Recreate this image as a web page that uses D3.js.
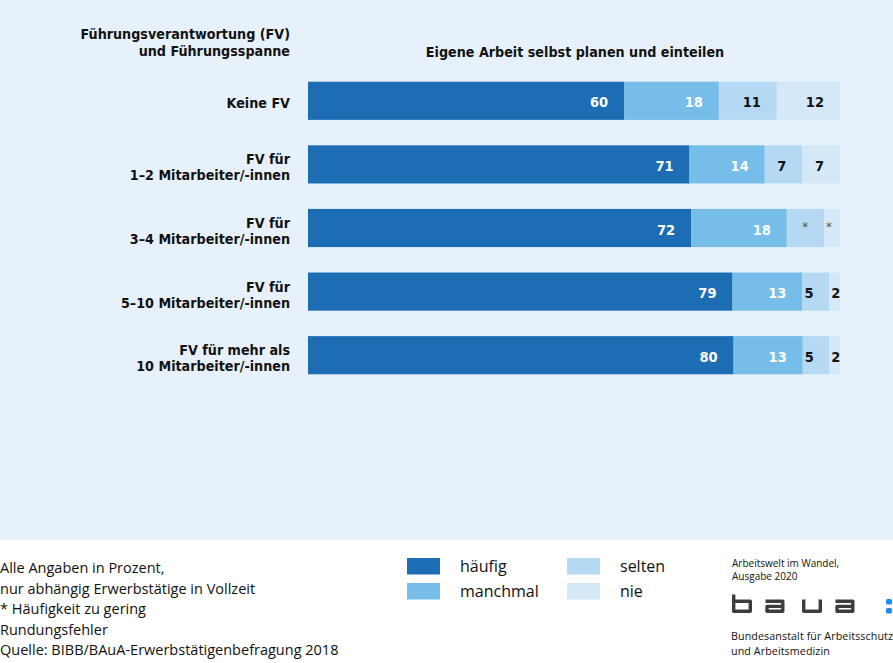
<!DOCTYPE html>
<html><head><meta charset="utf-8">
<script src="https://cdn.jsdelivr.net/npm/d3@7/dist/d3.min.js"></script>
<style>
html,body{margin:0;padding:0;background:#fff;}
svg{display:block;}
.cond{font-family:"DejaVu Sans Condensed","Liberation Sans Narrow","Roboto Condensed","Open Sans",sans-serif;font-stretch:condensed;}
.reg{font-family:"Open Sans","Lato",sans-serif;}
</style></head>
<body>
<script>
// ---- data ----
const categories = [
  ["Keine FV"],
  ["FV für", "1–2 Mitarbeiter/-innen"],
  ["FV für", "3–4 Mitarbeiter/-innen"],
  ["FV für", "5–10 Mitarbeiter/-innen"],
  ["FV für mehr als", "10 Mitarbeiter/-innen"]
];
const seriesNames = ["häufig", "manchmal", "selten", "nie"];
const haeufig  = [60, 71, 72, 79, 80];
const manchmal = [18, 14, 18, 13, 13];
const selten   = [11, 7, 7, 5, 5];
const nie      = [12, 7, 3, 2, 2];
// labels shown ("*" = Häufigkeit zu gering)
const seltenLabels = ["11", "7", "*", "5", "5"];
const nieLabels    = ["12", "7", "*", "2", "2"];
const colors = ["#1d6db5", "#76bde9", "#b6d9f3", "#d5e8f8"];
const textColors = ["#ffffff", "#ffffff", "#111111", "#111111"];
const footnotes = [
  "Alle Angaben in Prozent,",
  "nur abhängig Erwerbstätige in Vollzeit",
  "* Häufigkeit zu gering",
  "Rundungsfehler",
  "Quelle: BIBB/BAuA-Erwerbstätigenbefragung 2018"
];

const W = 893, H = 663;
const svg = d3.select("body").append("svg").attr("width", W).attr("height", H);

svg.append("rect").attr("x",0).attr("y",0).attr("width",W).attr("height",540).attr("fill","#e7f1fb");

const FS = 14.2;
// header
const hdr = svg.append("g").attr("class","cond").attr("font-weight","bold").attr("font-size",FS).attr("fill","#111");
hdr.append("text").attr("x",290).attr("y",39).attr("text-anchor","end").text("Führungsverantwortung (FV)");
hdr.append("text").attr("x",290).attr("y",56).attr("text-anchor","end").text("und Führungsspanne");
hdr.append("text").attr("x",575).attr("y",57).attr("text-anchor","middle").text("Eigene Arbeit selbst planen und einteilen");

const y = d3.scaleBand().domain(d3.range(categories.length)).range([69, 387]).paddingInner(0.4).paddingOuter(0.2);

const rows = categories.map((c, i) => {
  const vals = [haeufig[i], manchmal[i], selten[i], nie[i]];
  const labels = [String(haeufig[i]), String(manchmal[i]), seltenLabels[i], nieLabels[i]];
  return {c, vals, labels, i};
});

const g = svg.append("g");
rows.forEach(r => {
  const total = d3.sum(r.vals);
  const x = d3.scaleLinear().domain([0, total]).range([308, 840]);
  const cum = d3.cumsum(r.vals);
  const y0 = y(r.i), bh = y.bandwidth(), cy = y0 + bh/2;
  r.vals.forEach((v, k) => {
    const a = k === 0 ? 0 : cum[k-1], b = cum[k];
    g.append("rect").attr("x", x(a)).attr("y", y0).attr("width", x(b) - x(a)).attr("height", bh)
      .attr("fill", colors[k]);
  });
  // value labels
  r.vals.forEach((v, k) => {
    const a = k === 0 ? 0 : cum[k-1], b = cum[k];
    const lab = r.labels[k];
    const isStar = lab === "*";
    const t = g.append("text").attr("class","cond").attr("font-weight", isStar ? "normal" : "bold")
      .attr("font-size", isStar ? 13 : 14.5)
      .attr("fill", isStar ? "#555" : textColors[k])
      .attr("text-anchor","end")
      .attr("y", isStar ? cy + 3 : cy + 6.5)
      .text(lab);
    const tw = t.node().getComputedTextLength();
    const xr = Math.max(x(b) - 16, x(a) + tw + 2);
    t.attr("x", xr);
  });
  // category labels
  const lab = svg.append("text").attr("class","cond").attr("font-weight","bold").attr("font-size",FS)
    .attr("fill","#111").attr("text-anchor","end");
  if (r.c.length === 1) {
    lab.append("tspan").attr("x",290).attr("y",cy + 7).text(r.c[0]);
  } else {
    lab.append("tspan").attr("x",290).attr("y",cy).text(r.c[0]);
    lab.append("tspan").attr("x",290).attr("y",cy + 16).text(r.c[1]);
  }
});

// footnotes
const fn = svg.append("g").attr("class","reg").attr("font-size",14.5).attr("fill","#111");
footnotes.forEach((t, i) => fn.append("text").attr("x",0).attr("y",573 + i*20.5).text(t));

// legend
const lg = svg.append("g");
seriesNames.forEach((n, k) => {
  const col = Math.floor(k/2), row = k % 2;
  const lx = 407 + col*160, ly = 558 + row*25;
  lg.append("rect").attr("x",lx).attr("y",ly).attr("width",33).attr("height",16.5).attr("fill",colors[k]);
  lg.append("text").attr("class","reg").attr("x",lx+53).attr("y",ly+14).attr("font-size",16).attr("fill","#111").text(n);
});

// logo block
const lb = svg.append("g").attr("class","reg").attr("fill","#111");
lb.append("text").attr("x",732).attr("y",567).attr("font-size",10).text("Arbeitswelt im Wandel,");
lb.append("text").attr("x",732).attr("y",580).attr("font-size",10).text("Ausgabe 2020");
lb.append("text").attr("x",731).attr("y",640).attr("font-size",10.7).attr("letter-spacing",0.1).text("Bundesanstalt für Arbeitsschutz");
lb.append("text").attr("x",731).attr("y",655).attr("font-size",10.7).attr("letter-spacing",0.1).text("und Arbeitsmedizin");
const logo = svg.append("g").attr("fill","none").attr("stroke","#3c3c3c").attr("stroke-width",3.4).attr("stroke-linejoin","round");
// b
logo.append("path").attr("d","M733.7,594.5 V611.3 H750.3 V601.2 H733.7");
// a
logo.append("path").attr("d","M765.5,601.2 H782.8 V611.3 H767 V606.4 H782.8");
// u
logo.append("path").attr("d","M803.7,599.5 V611.3 H820.3 V599.5");
// a
logo.append("path").attr("d","M835.5,601.2 H852.8 V611.3 H837 V606.4 H852.8");
svg.append("rect").attr("x",886).attr("y",599).attr("width",6).attr("height",5.5).attr("rx",1.5).attr("fill","#1e8cf0");
svg.append("rect").attr("x",886).attr("y",608).attr("width",6).attr("height",5.5).attr("rx",1.5).attr("fill","#1e8cf0");
</script>
</body></html>
